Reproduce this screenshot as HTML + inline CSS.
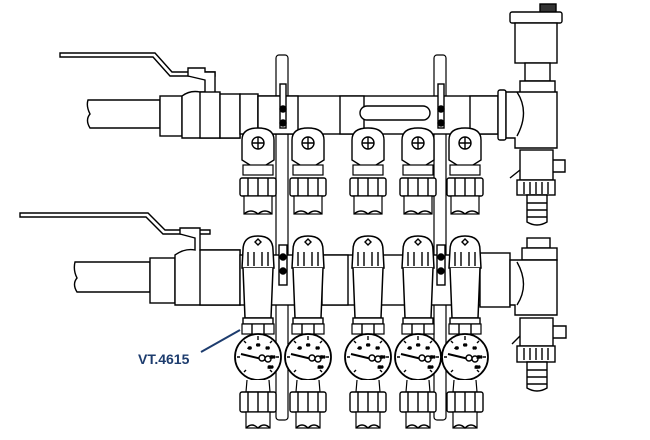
<!DOCTYPE html>
<html><head><meta charset="utf-8"><style>
html,body{margin:0;padding:0;background:#fff;width:650px;height:440px;overflow:hidden}
svg{display:block}
</style></head><body>
<svg width="650" height="440" viewBox="0 0 650 440" xmlns="http://www.w3.org/2000/svg">
<defs>
<g id="ls">
 <path d="M-16 140 Q-16 128 0 128 Q16 128 16 140 L16 160 L8 165 L8 172 L-8 172 L-8 165 L-16 160 Z" fill="#fff" stroke="#000" stroke-width="1.4"/>
 <circle cx="0" cy="143" r="6" fill="#fff" stroke="#000"/>
 <path d="M-6 143H6M0 137V149" stroke="#000"/>
 <rect x="-15" y="165" width="30" height="10" fill="#fff" stroke="#000" stroke-width="1.2"/>
 <rect x="-18" y="178" width="36" height="18" rx="2" fill="#fff" stroke="#000" stroke-width="1.4"/>
 <path d="M-10 178V196M0 178V196M10 178V196" stroke="#000"/>
 <rect x="-14" y="196" width="28" height="18" fill="#fff" stroke="#000" stroke-width="1.2"/>
 <path d="M-14 214 Q-7 208 0 214 Q7 208 14 214" fill="none" stroke="#000"/>
</g>
<g id="tv">
 <path d="M-15 250 Q-15 236 0 236 Q15 236 15 250 L16 268 L-16 268 Z" fill="#fff" stroke="#000" stroke-width="1.5"/>
 <path d="M-10 252V266M-4 252V266M4 252V266M10 252V266" stroke="#000"/>
 <path d="M-3 242 L0 239 L3 242 L0 245 Z" fill="none" stroke="#000"/>
 <path d="M-15 268 L-13 318 L13 318 L15 268" fill="#fff" stroke="#000" stroke-width="1.5"/>
 <rect x="-15" y="318" width="30" height="6" fill="#fff" stroke="#000"/>
 <rect x="-16" y="324" width="32" height="10" fill="#fff" stroke="#000" stroke-width="1.2"/>
 <path d="M-6 324V334M6 324V334" stroke="#000"/>
 <circle cx="0" cy="357" r="23" fill="#fff" stroke="#000" stroke-width="1.8"/>
 <path d="M-17 354 L8 360" stroke="#000" stroke-width="2"/>
 <circle cx="4" cy="358" r="3" fill="#fff" stroke="#000"/>
 <circle cx="10" cy="359" r="3" fill="#fff" stroke="#000"/>
 <path d="M0 336V340M-14 341l2 2M14 341l-2 2M-21 357h3M21 357h-3M-14 372l2-2M14 372l-2-2" stroke="#000"/>
 <text x="-10" y="349" font-size="3" font-family="Liberation Sans,sans-serif">40</text>
 <text x="-1.5" y="346" font-size="3" font-family="Liberation Sans,sans-serif">60</text>
 <text x="8" y="349" font-size="3" font-family="Liberation Sans,sans-serif">80</text>
 <text x="12" y="358" font-size="3" font-family="Liberation Sans,sans-serif">100</text>
 <text x="10" y="368" font-size="3" font-family="Liberation Sans,sans-serif">120</text>
 <path d="M-11 380 L-12 392 L12 392 L11 380" fill="#fff" stroke="#000" stroke-width="1.2"/>
 <rect x="-18" y="392" width="36" height="20" rx="2" fill="#fff" stroke="#000" stroke-width="1.4"/>
 <path d="M-10 392V412M0 392V412M10 392V412" stroke="#000"/>
 <rect x="-12" y="412" width="24" height="16" fill="#fff" stroke="#000" stroke-width="1.2"/>
 <path d="M-12 428 Q-6 422 0 428 Q6 422 12 428" fill="none" stroke="#000"/>
</g>
<g id="br">
 <rect x="-6" y="55" width="12" height="365" rx="3" fill="#fff" stroke="#000" stroke-width="1.2"/>
</g>
</defs>
<g fill="none" stroke="#000" stroke-width="1.4">
<use href="#br" x="282"/><use href="#br" x="440"/>
<path d="M60 53 H155 L172 72 H215 V76 H170 L153 57 H60 Z" fill="#fff"/>
<path d="M88 100 H160 V128 H90 Q85 120 90 114 Q86 106 88 100 Z" fill="#fff"/>
<rect x="160" y="96" width="22" height="40" fill="#fff"/>
<path d="M182 96 Q190 90 200 92 H205 V80 L188 76 V68 H205 V72 H215 V96 H240 V138 H182 Z" fill="#fff"/>
<rect x="200" y="92" width="20" height="46" fill="#fff"/>
<rect x="220" y="94" width="20" height="44" fill="#fff"/>
<rect x="240" y="94" width="18" height="40" fill="#fff"/>
<rect x="258" y="96" width="250" height="38" fill="#fff"/>
<rect x="258" y="96" width="40" height="38" fill="#fff"/>
<rect x="340" y="96" width="24" height="38" fill="#fff"/>
<rect x="470" y="96" width="28" height="38" fill="#fff"/>
<rect x="360" y="106" width="70" height="14" rx="7" fill="#fff"/>
<rect x="280" y="84" width="6" height="44" fill="#fff"/>
<rect x="438" y="84" width="6" height="44" fill="#fff"/>
<rect x="498" y="90" width="8" height="50" rx="2" fill="#fff"/>
<use href="#ls" x="258"/><use href="#ls" x="308"/><use href="#ls" x="368"/><use href="#ls" x="418"/><use href="#ls" x="465"/>
<rect x="540" y="4" width="16" height="9" fill="#333"/>
<rect x="510" y="12" width="52" height="11" rx="2" fill="#fff"/>
<rect x="515" y="23" width="42" height="40" fill="#fff"/>
<rect x="525" y="63" width="25" height="18" fill="#fff"/>
<path d="M520 81 H555 V92 H520 Z M506 92 H557 V128 H557 V148 H515 L515 138 H506 Z" fill="#fff"/>
<path d="M517 92 Q530 112 517 136" />
<rect x="520" y="150" width="33" height="30" fill="#fff"/>
<path d="M553 160 H565 V172 H553 M510 178 L520 170"/>
<rect x="517" y="180" width="38" height="15" fill="#fff"/>
<path d="M524 182V194M530 182V194M536 182V194M542 182V194M548 182V194"/>
<path d="M527 195 H547 V222 Q537 228 527 222 Z" fill="#fff"/>
<path d="M527 203H547M527 210H547M527 217H547"/>
<path d="M20 213 H148 L165 230 H210 V234 H163 L146 217 H20 Z" fill="#fff"/>
<path d="M75 262 H150 V292 H77 Q72 284 77 278 Q73 270 75 262 Z" fill="#fff"/>
<rect x="150" y="258" width="25" height="45" fill="#fff"/>
<path d="M175 255 Q185 248 195 250 V238 L180 234 V228 H200 V250 H240 V305 H175 Z" fill="#fff"/>
<rect x="200" y="250" width="40" height="55" fill="#fff"/>
<rect x="240" y="255" width="260" height="50" fill="#fff"/>
<rect x="322" y="255" width="26" height="50" fill="#fff"/>
<rect x="480" y="253" width="30" height="54" fill="#fff"/>
<use href="#tv" x="258"/><use href="#tv" x="308"/><use href="#tv" x="368"/><use href="#tv" x="418"/><use href="#tv" x="465"/>
<rect x="279" y="245" width="8" height="40" fill="#fff"/>
<rect x="437" y="245" width="8" height="40" fill="#fff"/>
<circle cx="283" cy="257" r="3" fill="#000"/><circle cx="283" cy="271" r="3" fill="#000"/>
<circle cx="441" cy="257" r="3" fill="#000"/><circle cx="441" cy="271" r="3" fill="#000"/>
<circle cx="283" cy="109" r="3" fill="#000"/><circle cx="283" cy="123" r="3" fill="#000"/>
<circle cx="441" cy="109" r="3" fill="#000"/><circle cx="441" cy="123" r="3" fill="#000"/>
<rect x="527" y="238" width="23" height="10" fill="#fff"/>
<rect x="522" y="248" width="35" height="12" fill="#fff"/>
<path d="M510 260 H557 V315 H515 V305 H510 Z" fill="#fff"/>
<path d="M517 262 Q530 285 517 305"/>
<rect x="520" y="318" width="33" height="28" fill="#fff"/>
<path d="M553 326 H566 V338 H553 M512 344 L520 336"/>
<rect x="517" y="346" width="38" height="16" fill="#fff"/>
<path d="M524 348V360M530 348V360M536 348V360M542 348V360M548 348V360"/>
<path d="M527 362 H547 V388 Q537 394 527 388 Z" fill="#fff"/>
<path d="M527 370H547M527 377H547M527 384H547"/>
</g>
<path d="M201 352 L240 330" stroke="#1d3c6e" stroke-width="2"/>
<text x="138" y="364" font-family="Liberation Sans,sans-serif" font-weight="bold" font-size="14" fill="#1d3c6e">VT.4615</text>
</svg>
</body></html>
